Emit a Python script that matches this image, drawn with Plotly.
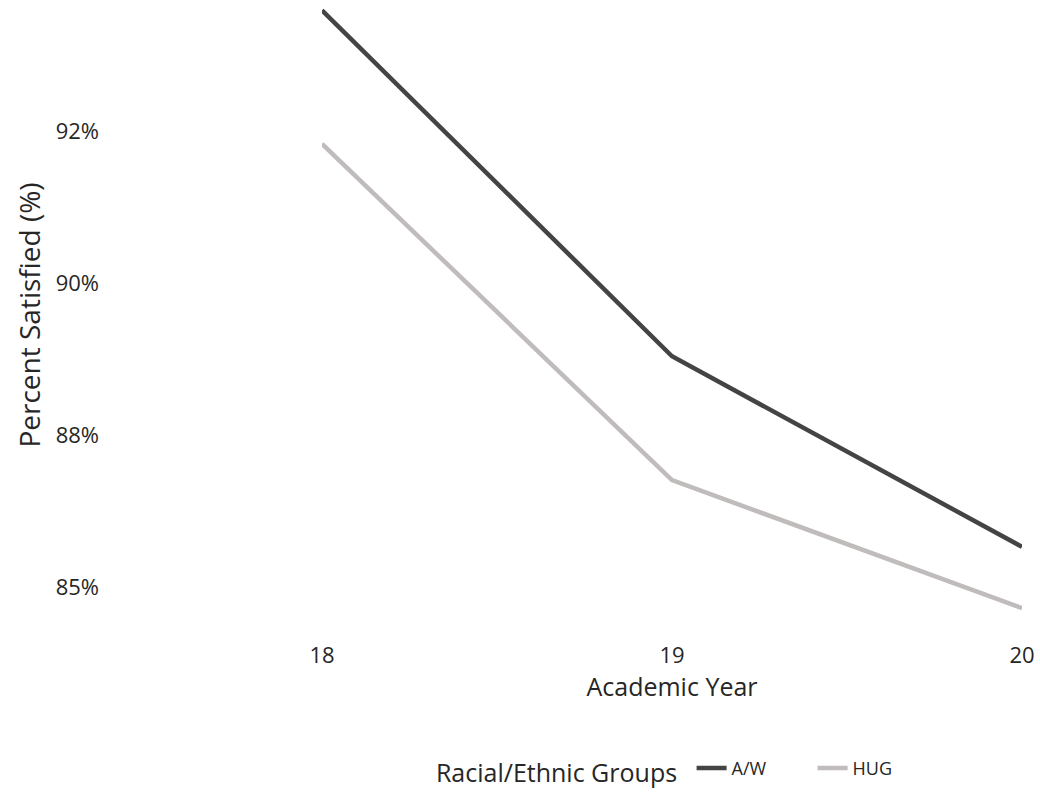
import plotly.graph_objects as go

years = [18, 19, 20]
aw = [0.945, 0.888, 0.8566]
hug = [0.923, 0.8676, 0.8465]
ytick_vals = [0.85, 0.875, 0.90, 0.925]
ytick_text = ["85%", "88%", "90%", "92%"]
xtick_vals = [18, 19, 20]

FONT = "Open Sans"
TXT = "#262626"
fig = go.Figure()
fig.add_trace(go.Scatter(x=years, y=aw, mode="lines", name="A/W",
                         line=dict(color="#444444", width=4.5)))
fig.add_trace(go.Scatter(x=years, y=hug, mode="lines", name="HUG",
                         line=dict(color="#c0bcbc", width=4.5)))

fig.update_layout(
    width=1040, height=797,
    margin=dict(l=322, r=18, t=0, b=167),
    paper_bgcolor="white", plot_bgcolor="white",
    font=dict(family=FONT, color=TXT, size=22),
    showlegend=True,
    legend=dict(orientation="h", x=0.517, xanchor="center", y=-0.19, yanchor="top",
                title=dict(text="Racial/Ethnic Groups ", font=dict(size=25, family=FONT, color=TXT)),
                font=dict(size=18, family=FONT, color=TXT),
                entrywidth=76, entrywidthmode="pixels"),
)
fig.update_xaxes(range=[18, 20], tickvals=xtick_vals, ticktext=[str(v) for v in xtick_vals],
                 showgrid=False, zeroline=False, showline=False,
                 title=dict(text="Academic Year", standoff=2, font=dict(size=25)),
                 tickfont=dict(size=22), ticklabelstandoff=10)
fig.update_yaxes(range=[0.8429, 0.9467], tickvals=ytick_vals, ticktext=ytick_text,
                 showgrid=False, zeroline=False, showline=False,
                 title=dict(text="Percent Satisfied (%)", font=dict(size=28), standoff=6),
                 tickfont=dict(size=22), ticklabelstandoff=222)

fig.write_html("out.html")
